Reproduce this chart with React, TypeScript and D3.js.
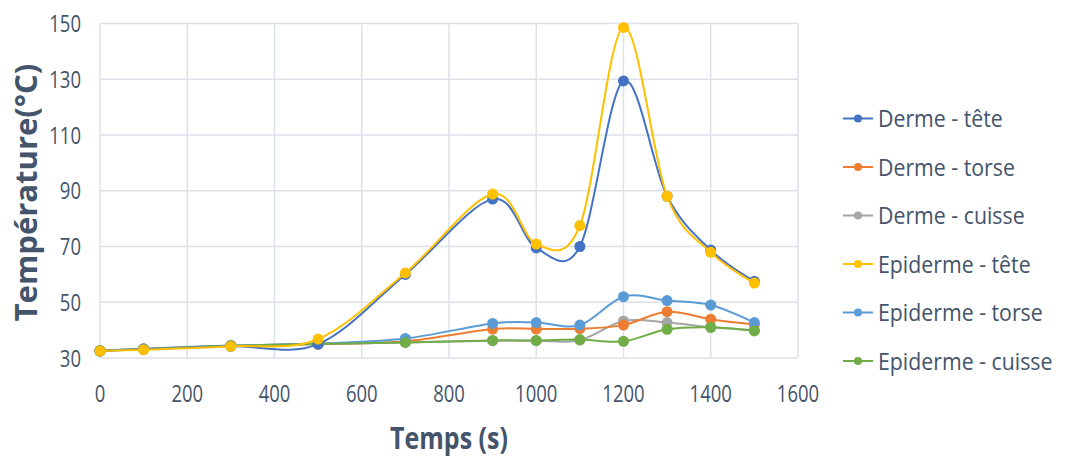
import * as d3 from 'd3';

const times = [0, 100, 300, 500, 700, 900, 1000, 1100, 1200, 1300, 1400, 1500];

const dermeTete = [32.5, 33.1, 34.2, 35, 60, 87, 69.5, 70, 129.4, 88, 68.7, 57.5];
const dermeTorse = [32.6, 33.2, 34.4, 35, 36, 40.4, 40.4, 40.5, 41.8, 46.6, 43.9, 42];
const dermeCuisse = [32.6, 33.2, 34.4, 35, 35.6, 36.2, 36.2, 36.4, 43.3, 42.7, 41, 40];
const epiTete = [32.5, 33, 34.2, 36.8, 60.5, 88.8, 70.9, 77.5, 148.6, 88, 67.9, 56.9];
const epiTorse = [32.6, 33.3, 34.5, 35.2, 37, 42.4, 42.7, 41.8, 52, 50.6, 49, 42.7];
const epiCuisse = [32.6, 33.2, 34.4, 35, 35.6, 36.3, 36.3, 36.6, 36, 40.3, 41, 39.7];

const seriesNames = [
  'Derme - tête',
  'Derme - torse',
  'Derme - cuisse',
  'Epiderme - tête',
  'Epiderme - torse',
  'Epiderme - cuisse',
];
const seriesValues = [dermeTete, dermeTorse, dermeCuisse, epiTete, epiTorse, epiCuisse];
const seriesColors = ['#4472C4', '#ED7D31', '#A5A5A5', '#FFC000', '#5B9BD5', '#70AD47'];

const xTicks = [0, 200, 400, 600, 800, 1000, 1200, 1400, 1600];
const yTicks = [30, 50, 70, 90, 110, 130, 150];

const WIDTH = 1067;
const HEIGHT = 462;
const PLOT = { left: 100, right: 798, top: 23.5, bottom: 358 };
const FONT = '"Open Sans", "Noto Sans", sans-serif';
const TEXT = '#44546A';
const GRID = '#DDE2EA';
// the source picture is stretched vertically, text looks tall and narrow
const TICK_STRETCH = 1.27;

// draw order: gray/orange under, blue/yellow on top like the source
const drawOrder = [2, 1, 4, 5, 0, 3];

export default function App() {
  const x = d3.scaleLinear().domain([0, 1600]).range([PLOT.left, PLOT.right]);
  const y = d3.scaleLinear().domain([30, 150]).range([PLOT.bottom, PLOT.top]);

  const line = d3
    .line<number>()
    .x((_, i) => x(times[i]))
    .y((d) => y(d))
    .curve(d3.curveCardinal.tension(0));

  return (
    <svg
      width={WIDTH}
      height={HEIGHT}
      style={{ position: 'absolute', left: 0, top: 0, background: '#fff' }}
    >
      {/* grid */}
      {yTicks.map((t) => (
        <line key={'gy' + t} x1={PLOT.left} x2={PLOT.right} y1={y(t)} y2={y(t)} stroke={GRID} strokeWidth={1.5} />
      ))}
      {xTicks.map((t) => (
        <line key={'gx' + t} x1={x(t)} x2={x(t)} y1={PLOT.top} y2={PLOT.bottom} stroke={GRID} strokeWidth={1.5} />
      ))}

      {/* tick labels */}
      {yTicks.map((t) => (
        <text
          key={'ty' + t}
          transform={`translate(81,${y(t) + 8.5}) scale(1,${TICK_STRETCH})`}
          textAnchor="end"
          fontFamily={FONT}
          fontSize={18.5}
          fill={TEXT}
        >
          {t}
        </text>
      ))}
      {xTicks.map((t) => (
        <text
          key={'tx' + t}
          transform={`translate(${x(t)},401.5) scale(1,${TICK_STRETCH})`}
          textAnchor="middle"
          fontFamily={FONT}
          fontSize={18.5}
          fill={TEXT}
        >
          {t}
        </text>
      ))}

      {/* axis titles */}
      <text
        transform={`translate(37,192.5) rotate(-90)`}
        textAnchor="middle"
        fontFamily={FONT}
        fontSize={31}
        fontWeight="bold"
        fill={TEXT}
      >
        Température(°C)
      </text>
      <text
        transform={`translate(449,448.5) scale(1,1.22)`}
        textAnchor="middle"
        fontFamily={FONT}
        fontSize={25}
        fontWeight="bold"
        fill={TEXT}
      >
        Temps (s)
      </text>

      {/* series */}
      {drawOrder.map((si) => (
        <g key={seriesNames[si]}>
          <path d={line(seriesValues[si]) ?? ''} fill="none" stroke={seriesColors[si]} strokeWidth={2} />
          {seriesValues[si].map((v, i) => (
            <circle key={i} cx={x(times[i])} cy={y(v)} r={5.5} fill={seriesColors[si]} />
          ))}
        </g>
      ))}

      {/* legend */}
      {seriesNames.map((name, i) => {
        const ly = 118.5 + i * 48.5;
        return (
          <g key={'lg' + name}>
            <line x1={843} x2={873} y1={ly} y2={ly} stroke={seriesColors[i]} strokeWidth={2} />
            <circle cx={858} cy={ly} r={4} fill={seriesColors[i]} />
            <text
              transform={`translate(878,${ly + 8.5}) scale(1,1.12)`}
              fontFamily={FONT}
              fontSize={21.3}
              fill={TEXT}
            >
              {name}
            </text>
          </g>
        );
      })}
    </svg>
  );
}
